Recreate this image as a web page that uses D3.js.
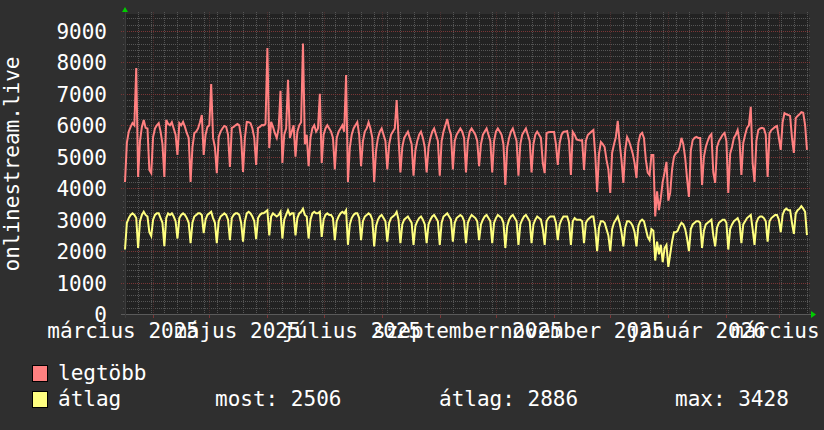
<!DOCTYPE html>
<html><head><meta charset="utf-8">
<script src="https://cdn.jsdelivr.net/npm/d3@7"></script>
<style>
html,body{margin:0;padding:0;background:#2f2f2f;}
svg{display:block;}
text{font-family:"DejaVu Sans Mono",monospace;font-size:21px;fill:#ffffff;}
</style></head><body>
<svg id="chart" width="824" height="430"></svg>
<script>
// ---- data (daily values, starting 2025-03-17) ----
const startDate = new Date(Date.UTC(2025, 2, 17));
const seriesNames = ["legtöbb", "átlag"];
const seriesColors = ["#ff8080", "#ffff80"];
const maxVals = [
 4200,5440,5800,5950,6070,6000,7820,
 4360,5500,5950,6170,5920,5900,4580,
 4480,5630,5900,6000,6070,5800,5400,
 4360,6170,6050,6000,6100,5900,5700,
 5060,6070,6000,6110,5950,5750,5600,
 4200,5300,5750,5800,5900,6100,6330,
 5060,5700,5950,6000,7310,5600,5300,
 4480,5630,5800,5900,5980,5950,5700,
 4680,5920,5950,6000,6040,6000,5600,
 4520,5600,6110,6100,6070,5900,5600,
 4740,5920,5950,6010,6000,6050,8460,
 5280,6110,5950,5750,5600,5900,7100,
 4800,5700,5900,7450,5600,5800,6000,
 5000,5800,6000,6100,8600,5400,5700,
 4700,5600,5900,6000,5800,5900,7000,
 4800,5700,5900,6000,5900,5800,5600,
 4600,5600,5800,5900,6000,5800,7600,
 4200,5300,5700,5900,6000,6100,5700,
 4700,5500,5800,5900,6100,5900,5600,
 4200,5200,5600,5800,5900,5700,5500,
 4600,5400,5700,5800,5900,6800,5600,
 4500,5300,5600,5700,5800,5600,5400,
 4400,5200,5500,5700,5800,5600,5300,
 4500,5300,5600,5800,5900,5700,5500,
 4400,5500,5800,6000,6200,5900,5700,
 4600,5500,5700,5800,5900,5800,5600,
 4500,5500,5800,5900,5800,5700,5500,
 4700,5400,5700,5800,5900,5700,5500,
 4500,5500,5800,5900,5800,5700,5400,
 4100,5300,5600,5800,5900,5700,5500,
 4400,5400,5700,5800,5900,5700,5500,
 4500,5400,5700,5800,5700,5600,4800,
 4480,5750,5780,5790,5790,5790,5400,
 4740,5440,5700,5790,5800,5820,5500,
 4420,5790,5700,5550,5530,5520,5530,
 4580,5500,5690,5750,5800,5850,5060,
 3880,5100,5470,5400,5310,4900,4600,
 3850,5120,5400,5630,6140,5440,4900,
 4170,5220,5630,5500,5310,5100,4800,
 4330,5440,5700,5760,5600,4900,4500,
 4420,5060,5060,3100,3900,3300,3700,
 4200,4500,4840,3600,3850,4600,5000,
 5120,5150,5300,5600,5400,4960,4300,
 3720,5200,5530,5600,5630,5600,5600,
 4100,5000,5310,5500,5650,5720,4500,
 4170,5310,5500,5600,5700,5760,5500,
 3850,5100,5310,5600,5700,5850,5500,
 4420,5440,5700,5920,6000,6590,4800,
 4200,5500,5850,5900,5920,5900,5700,
 4360,5750,5850,5900,5950,5980,5600,
 5220,6100,6390,6350,6330,6300,5600,
 5120,6230,6300,6350,6420,6400,6010,
 5220
];
const avgVals = [
 2050,2900,3050,3150,3200,3150,3050,
 2100,2950,3150,3250,3150,3100,2600,
 2480,3000,3150,3200,3200,3050,2900,
 2160,3050,3200,3150,3200,3100,2950,
 2400,3050,3150,3200,3150,3050,2900,
 2250,2900,3100,3150,3200,3200,3150,
 2570,3000,3150,3200,3250,3050,2900,
 2250,2950,3100,3150,3200,3150,3000,
 2350,3050,3150,3200,3200,3150,2900,
 2300,2950,3200,3250,3200,3100,2950,
 2380,3050,3150,3200,3200,3250,3300,
 2500,3100,3200,3150,3100,3150,3250,
 2400,3000,3150,3300,3150,3200,3200,
 2500,3050,3200,3250,3350,3150,3100,
 2400,3000,3200,3250,3200,3200,3250,
 2450,3000,3150,3200,3150,3150,3050,
 2350,2950,3100,3200,3250,3200,3300,
 2200,2850,3050,3150,3200,3200,3050,
 2350,2950,3100,3150,3200,3150,3000,
 2150,2800,3000,3100,3150,3050,2950,
 2300,2900,3050,3100,3150,3250,3000,
 2250,2850,3000,3050,3100,3000,2900,
 2200,2800,2950,3050,3100,3000,2850,
 2250,2850,3000,3100,3150,3050,2950,
 2200,2900,3100,3150,3200,3100,3000,
 2300,2900,3050,3100,3150,3100,2950,
 2250,2900,3050,3150,3100,3050,2950,
 2350,2850,3000,3100,3150,3050,2950,
 2250,2900,3050,3150,3100,3050,2900,
 2100,2800,3000,3100,3150,3050,2950,
 2200,2850,3000,3100,3150,3050,2950,
 2250,2850,3000,3100,3050,3000,2700,
 2200,2950,3050,3100,3100,3100,2900,
 2350,2850,3000,3100,3100,3100,2900,
 2200,2950,3050,3000,3000,3000,2950,
 2250,2900,3000,3050,3100,3100,2700,
 2000,2750,2950,2950,2900,2700,2500,
 2000,2700,2900,3000,3100,2900,2600,
 2150,2750,2950,2950,2900,2800,2600,
 2150,2800,2950,3000,2950,2700,2450,
 2350,2700,2650,1700,2300,1900,2200,
 1650,2100,2200,1500,1900,2300,2600,
 2600,2650,2800,2900,2850,2700,2400,
 2000,2700,2850,2900,2950,2950,2900,
 2100,2650,2850,2900,2950,3000,2500,
 2150,2750,2900,2950,3000,3000,2900,
 2050,2700,2850,2950,3000,3050,2900,
 2250,2850,2950,3050,3100,3150,2700,
 2200,2900,3050,3100,3100,3050,2950,
 2300,2950,3050,3100,3150,3150,3000,
 2600,3150,3300,3350,3300,3300,2900,
 2550,3200,3300,3350,3428,3350,3250,
 2506
];
const yTickValues = [0,1000,2000,3000,4000,5000,6000,7000,8000,9000];
const monthLabelDates = ["2025-03-01","2025-05-01","2025-07-01","2025-09-01","2025-11-01","2026-01-01","2026-03-01"];
const monthLabelTexts = ["március 2025","május 2025","július 2025","szeptember 2025","november 2025","január 2026","március 2026"];
const yAxisTitle = "onlinestream.live";
const legendStatNames = ["most:", "átlag:", "max:"];
const legendStatValues = ["2506", "2886", "3428"];

// ---- layout ----
const L = 125, R = 809, T = 14, B = 314;
const svg = d3.select("#chart");
const endDate = d3.utcHour.offset(startDate, 365*24 + 2);
const x = d3.scaleUtc().domain([startDate, endDate]).range([L, R]);
const y = d3.scaleLinear().domain([0, 9540]).range([B, T]);

svg.append("rect").attr("width",824).attr("height",430).attr("fill","#2f2f2f");
svg.append("rect").attr("x",L).attr("y",T).attr("width",R-L).attr("height",B-T).attr("fill","#222222");

const grid = svg.append("g").attr("shape-rendering","crispEdges");
const minorCol = "#555555", majorColV = "#4e3030", majorColH = "#7a3636";
// minor vertical (weekly)
d3.utcMonday.range(startDate, endDate).forEach(d => {
  const xx = Math.round(x(d)) + 0.5;
  grid.append("line").attr("x1",xx).attr("x2",xx).attr("y1",T-2).attr("y2",B+2)
    .attr("stroke",minorCol).attr("stroke-dasharray","1,1");
});
// minor horizontal
d3.range(200, 9540, 200).filter(v => v % 1000 !== 0).forEach(v => {
  const yy = Math.round(y(v)) + 0.5;
  grid.append("line").attr("x1",L-2).attr("x2",R+2).attr("y1",yy).attr("y2",yy)
    .attr("stroke",minorCol).attr("stroke-dasharray","1,1");
});
// major vertical (monthly)
d3.utcMonth.range(startDate, endDate).forEach(d => {
  const xx = Math.round(x(d)) + 0.5;
  grid.append("line").attr("x1",xx).attr("x2",xx).attr("y1",T-2).attr("y2",B)
    .attr("stroke",majorColV).attr("stroke-dasharray","1,1");
  grid.append("line").attr("x1",xx).attr("x2",xx).attr("y1",B).attr("y2",B+4)
    .attr("stroke",majorColH);
});
// major horizontal
yTickValues.filter(v => v > 0).forEach(v => {
  const yy = Math.round(y(v)) + 0.5;
  grid.append("line").attr("x1",L-4).attr("x2",R+2).attr("y1",yy).attr("y2",yy)
    .attr("stroke",majorColH).attr("stroke-dasharray","1,1");
});

// axes lines
grid.append("line").attr("x1",L-4).attr("x2",R+3).attr("y1",B+0.5).attr("y2",B+0.5).attr("stroke","#5a5a5a");
grid.append("line").attr("x1",L+0.5).attr("x2",L+0.5).attr("y1",T-3).attr("y2",B+4).attr("stroke","#3c3c3c");
// arrows
svg.append("path").attr("d",`M${L-3},${T-2} L${L+3},${T-2} L${L},${T-7} Z`).attr("fill","#00cc00");
svg.append("path").attr("d",`M${R+2},${B-3} L${R+2},${B+4} L${R+7},${B+0.5} Z`).attr("fill","#00cc00");

// series lines
const line = d3.line()
  .x((d,i) => x(d3.utcDay.offset(startDate, i)))
  .y(d => y(d));
[maxVals, avgVals].forEach((vals, k) => {
  svg.append("path").datum(vals).attr("d", line)
    .attr("fill","none").attr("stroke", seriesColors[k]).attr("stroke-width",2)
    .attr("stroke-linejoin","miter");
});

// y labels
yTickValues.forEach(v => {
  svg.append("text").attr("x",107).attr("y",y(v)+8).attr("text-anchor","end").text(v);
});
// y title
svg.append("text").attr("transform",`translate(19,${(T+B)/2}) rotate(-90)`)
  .attr("text-anchor","middle").text(yAxisTitle);
// x labels: centered half a month after the month start
monthLabelDates.forEach((ds, i) => {
  const d = d3.utcDay.offset(new Date(ds + "T00:00:00Z"), 15);
  svg.append("text").attr("x", x(d)).attr("y", 338).attr("text-anchor","middle").text(monthLabelTexts[i]);
});

// legend
const rows = [380, 406];
seriesNames.forEach((n, i) => {
  svg.append("rect").attr("x",32.5).attr("y",rows[i]-14.5).attr("width",15).attr("height",16)
    .attr("fill",seriesColors[i]).attr("stroke","#000").attr("stroke-width",1);
  svg.append("text").attr("x",58).attr("y",rows[i]).text(n);
});
const statX = [215, 439, 675];
legendStatNames.forEach((n, i) => {
  svg.append("text").attr("x",statX[i]).attr("y",rows[1]).text(n + " " + legendStatValues[i]);
});
</script>
</body></html>
